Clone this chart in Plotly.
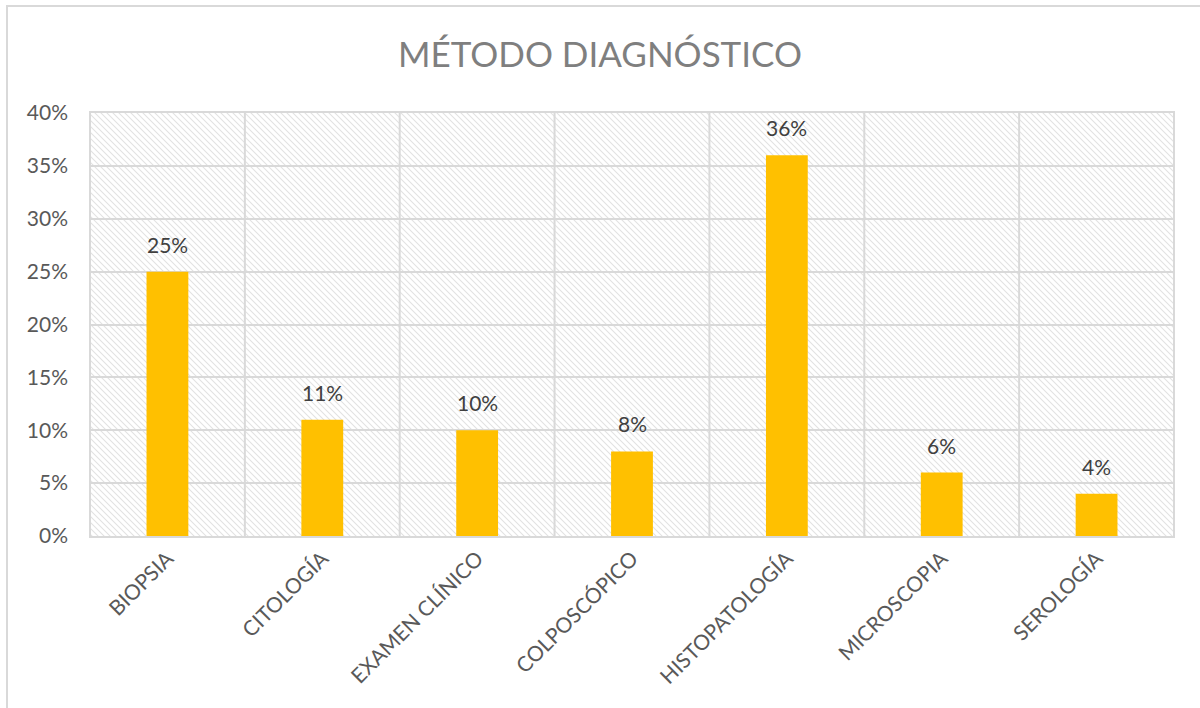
import base64
import plotly.graph_objects as go

# ---------------- data ----------------
metodos = ["BIOPSIA", "CITOLOGÍA", "EXAMEN CLÍNICO", "COLPOSCÓPICO",
           "HISTOPATOLOGÍA", "MICROSCOPIA", "SEROLOGÍA"]
porcentajes = [0.25, 0.11, 0.10, 0.08, 0.36, 0.06, 0.04]
y_ticks = [0, 0.05, 0.10, 0.15, 0.20, 0.25, 0.30, 0.35, 0.40]
y_tick_labels = ["0%", "5%", "10%", "15%", "20%", "25%", "30%", "35%", "40%"]

# ---------------- layout sizes ----------------
W, H = 1200, 708
M_L, M_R, M_T, M_B = 89, 25, 113, 172
plot_w = W - M_L - M_R
plot_h = H - M_T - M_B

FONT = "Lato"
GRID = "#d9d9d9"

# diagonal hatch background for the plot area (Excel "wide downward diagonal")
hatch_svg = f'''<svg xmlns="http://www.w3.org/2000/svg" width="{plot_w}" height="{plot_h}">
<defs><pattern id="p" width="6" height="6" patternUnits="userSpaceOnUse">
<path d="M-1,-1 L7,7 M-1,5 L1,7 M5,-1 L7,1" stroke="#e2e2e2" stroke-width="1.1"/>
</pattern></defs>
<rect width="100%" height="100%" fill="white"/>
<rect width="100%" height="100%" fill="url(#p)"/>
</svg>'''
hatch_uri = "data:image/svg+xml;base64," + base64.b64encode(hatch_svg.encode()).decode()

fig = go.Figure()
fig.add_trace(go.Bar(
    x=metodos,
    y=porcentajes,
    width=0.27,
    marker=dict(color="#ffc000", line=dict(width=0)),
    hoverinfo="x+y",
))

# data labels above the bars
for m, v in zip(metodos, porcentajes):
    fig.add_annotation(x=m, y=v, text=f"{round(v * 100)}%", showarrow=False,
                       yanchor="bottom", yshift=13,
                       font=dict(family=FONT, size=21, color="#404040"))

# paper coords of the outer chart border
bx0 = (7 - M_L) / plot_w
by1 = 1 + (M_T - 6) / plot_h

fig.update_layout(
    width=W, height=H,
    margin=dict(l=M_L, r=M_R, t=M_T, b=M_B),
    paper_bgcolor="white",
    plot_bgcolor="white",
    showlegend=False,
    title=dict(text="MÉTODO DIAGNÓSTICO", x=0.5, xanchor="center",
               y=1 - 55 / H, yanchor="middle",
               font=dict(family=FONT, size=35, color="#7f7f7f")),
    font=dict(family=FONT),
    images=[dict(source=hatch_uri, xref="paper", yref="paper",
                 x=0, y=1, sizex=1, sizey=1, xanchor="left", yanchor="top",
                 sizing="stretch", layer="below")],
    shapes=[dict(type="rect", xref="paper", yref="paper",
                 x0=bx0, x1=1.2, y0=-0.6, y1=by1,
                 line=dict(color=GRID, width=2), fillcolor="rgba(0,0,0,0)",
                 layer="below")],
)

fig.update_xaxes(
    type="category",
    tickangle=-45,
    tickfont=dict(family=FONT, size=21, color="#595959"),
    showgrid=False,
    showline=True, linecolor=GRID, linewidth=2,
    mirror=True,
    ticks="",
)
# vertical separators between categories
for i in range(len(metodos) + 1):
    fig.add_vline(x=i - 0.5, line=dict(color=GRID, width=2), layer="below")

fig.update_yaxes(
    range=[0, 0.40],
    tickvals=y_ticks,
    ticktext=y_tick_labels,
    tickfont=dict(family=FONT, size=21, color="#595959"),
    showgrid=True, gridcolor=GRID, gridwidth=2,
    zeroline=False,
    showline=False,
    ticks="", ticklen=0,
    ticklabelstandoff=20,
)

# drop the browser's default 8px body margin so the figure sits at 0,0
fig.write_html("out.html", config={"displayModeBar": False},
               post_script="document.body.style.margin='0';")
